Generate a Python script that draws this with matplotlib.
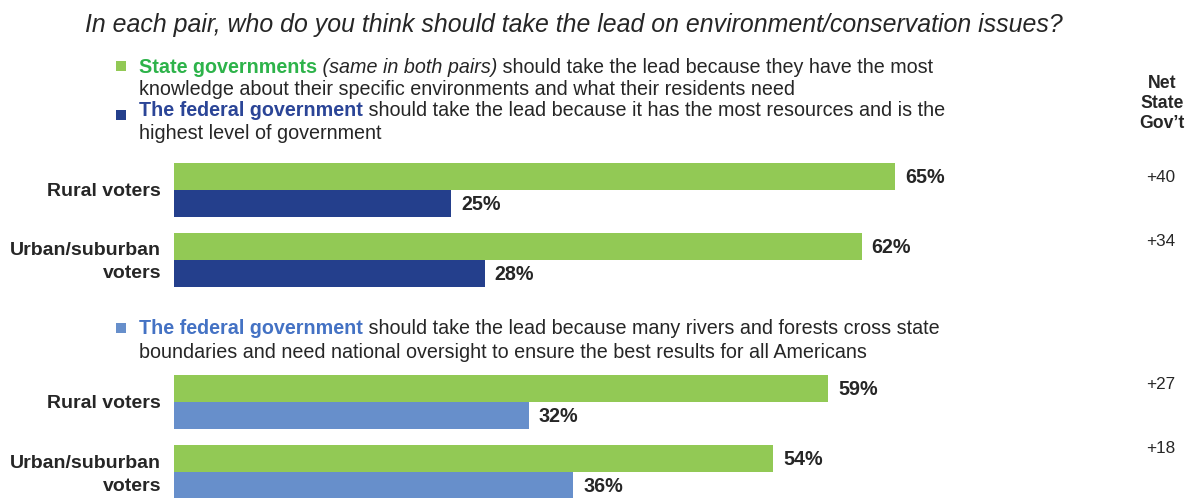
import matplotlib
matplotlib.use("Agg")
import matplotlib.pyplot as plt

# ---------------- data ----------------
groups = ["Rural voters", "Urban/suburban\nvoters"]
state_pair1 = [65, 62]
federal_pair1 = [25, 28]
state_pair2 = [59, 54]
federal_pair2 = [32, 36]
net_pair1 = ["+40", "+34"]
net_pair2 = ["+27", "+18"]

title = "In each pair, who do you think should take the lead on environment/conservation issues?"

GREEN = "#92C955"
NAVY = "#243F8C"
LBLUE = "#678FCB"
GREEN_TXT = "#2DB34A"
NAVY_TXT = "#2B4597"
LBLUE_TXT = "#4472C4"
TXT = "#262626"

plt.rcParams['font.family'] = ['Liberation Sans', 'DejaVu Sans']

W, H = 1194, 498
fig = plt.figure(figsize=(W / 100, H / 100), dpi=100)

# overlay axes in pixel coordinates for text
fa = fig.add_axes([0, 0, 1, 1])
fa.set_xlim(0, W)
fa.set_ylim(H, 0)
fa.axis("off")

# bar axes: x in percent, y in pixel coordinates
x0 = 174
px_per_pct = (895 - 174) / 65
ax = fig.add_axes([x0 / W, 0, (W - x0) / W, 1])
ax.set_xlim(0, (W - x0) / px_per_pct)
ax.set_ylim(H, 0)
ax.axis("off")

bar_h = 27
fig.canvas.draw()
renderer = fig.canvas.get_renderer()

LEG = 14.2


def segments(x, y, segs, size=LEG):
    for text, color, weight, style in segs:
        t = fa.text(x, y, text, color=color, fontweight=weight, fontstyle=style,
                    fontsize=size, va="baseline", ha="left")
        bb = t.get_window_extent(renderer)
        x += bb.width


# title
fa.text(85, 32, title, fontsize=17.9, fontstyle="italic", color=TXT,
        va="baseline", ha="left")

# legend block 1
tx = 139
fa.add_patch(plt.Rectangle((116, 61), 10, 10, color=GREEN, lw=0))
segments(tx, 73, [("State governments", GREEN_TXT, "bold", "normal"),
                  (" (same in both pairs)", TXT, "normal", "italic"),
                  (" should take the lead because they have the most", TXT, "normal", "normal")])
segments(tx, 95, [("knowledge about their specific environments and what their residents need", TXT, "normal", "normal")])
fa.add_patch(plt.Rectangle((116, 110), 10, 10, color=NAVY, lw=0))
segments(tx, 116, [("The federal government", NAVY_TXT, "bold", "normal"),
                   (" should take the lead because it has the most resources and is the", TXT, "normal", "normal")])
segments(tx, 139, [("highest level of government", TXT, "normal", "normal")])

# legend block 2
fa.add_patch(plt.Rectangle((116, 323), 10, 10, color=LBLUE, lw=0))
segments(tx, 334, [("The federal government", LBLUE_TXT, "bold", "normal"),
                   (" should take the lead because many rivers and forests cross state", TXT, "normal", "normal")])
segments(tx, 358, [("boundaries and need national oversight to ensure the best results for all Americans", TXT, "normal", "normal")])

# Net header
for k, s in enumerate(["Net", "State", "Gov\u2019t"]):
    fa.text(1162, 88 + 20 * k, s, fontsize=12.7, fontweight="bold", color=TXT,
            ha="center", va="baseline")


def draw_pair(state_vals, fed_vals, nets, fed_color, green_tops, label_baselines, net_baselines):
    for i in range(len(groups)):
        gt = green_tops[i]
        ax.barh(gt + bar_h / 2, state_vals[i], height=bar_h, color=GREEN, lw=0)
        ax.barh(gt + bar_h * 1.5, fed_vals[i], height=bar_h, color=fed_color, lw=0)
        ax.annotate(f"{state_vals[i]}%", (state_vals[i], gt + bar_h / 2 + 1),
                    xytext=(10, 0), textcoords="offset pixels", ha="left", va="center",
                    fontsize=14.2, fontweight="bold", color=TXT)
        ax.annotate(f"{fed_vals[i]}%", (fed_vals[i], gt + bar_h * 1.5 + 1),
                    xytext=(10, 0), textcoords="offset pixels", ha="left", va="center",
                    fontsize=14.2, fontweight="bold", color=TXT)
        lines = groups[i].split("\n")
        for j, ln in enumerate(lines):
            fa.text(161, label_baselines[i] + 23 * j, ln, fontsize=14.0, fontweight="bold",
                    color=TXT, ha="right", va="baseline")
        fa.text(1161, net_baselines[i], nets[i], fontsize=12.3, color=TXT,
                ha="center", va="baseline")


draw_pair(state_pair1, federal_pair1, net_pair1, NAVY, [163, 233], [196, 255], [182, 246])
draw_pair(state_pair2, federal_pair2, net_pair2, LBLUE, [375, 445], [408, 468], [389, 453])

fig.savefig("out.png", dpi=100)
